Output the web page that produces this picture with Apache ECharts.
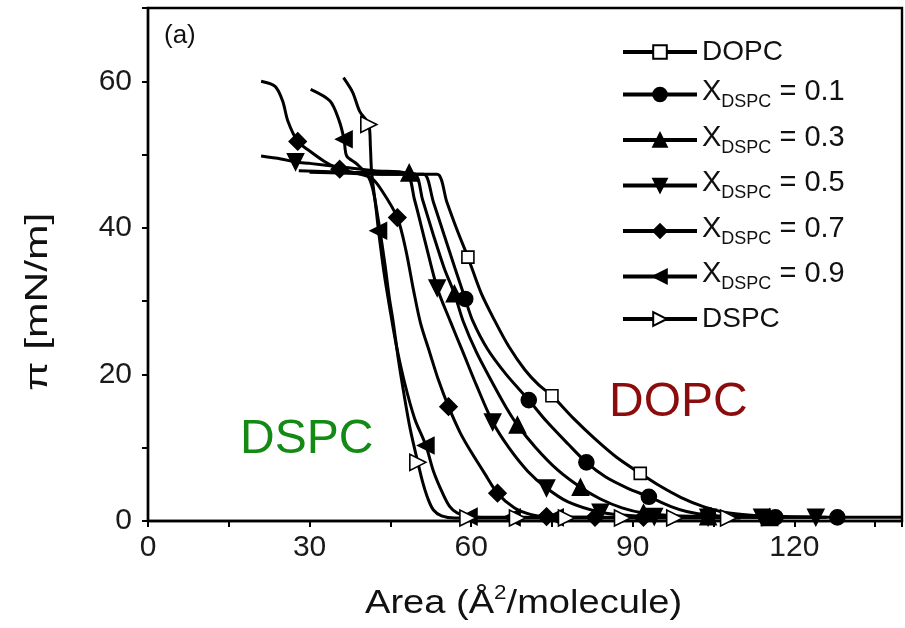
<!DOCTYPE html>
<html>
<head>
<meta charset="utf-8">
<script src="https://cdn.jsdelivr.net/npm/echarts@6/dist/echarts.min.js"></script>
<style>
  html, body { margin: 0; padding: 0; background: #fff; }
  #chart { width: 905px; height: 628px; }
</style>
</head>
<body>
<div id="chart"></div>
<script>
// Surface pressure–area isotherms of DOPC/DSPC mixtures
const seriesNames = ['DOPC', '0.1', '0.3', '0.5', '0.7', '0.9', 'DSPC'];
const xLabelValues = [0, 30, 60, 90, 120];
const yLabelValues = [0, 20, 40, 60];

// Isotherm curves: [area (Å²/molecule), π (mN/m)]
const dopcCurve = [[38,47.4],[44,47.3],[50,47.3],[53.7,47.3],[55.5,43.5],[57.5,39.5],[59.4,36],[61.8,31.2],[64.4,27.3],[67,23.8],[70,20.6],[72.5,18.6],[75,17.1],[79,14],[83,11.2],[87,8.7],[91.4,6.5],[95,4.8],[99,3.2],[103,2],[107,1.2],[112,0.8],[118,0.6],[125,0.5]];
const x01Curve = [[30,47.6],[40,47.4],[48,47.3],[51.2,47.3],[53,43.5],[55,39],[57,34.5],[58.9,30.3],[60.3,27.3],[63,23.5],[66.5,20],[70.7,16.5],[74,13.6],[78,10.5],[81.4,8],[85,6],[89,4.5],[93,3.3],[97,2],[100,1.3],[104,0.8],[110,0.6],[116.5,0.5],[128,0.5],[140,0.5]];
const x03Curve = [[28,47.8],[36,47.6],[44,47.5],[49.4,47.4],[51,43.8],[53,39],[55,34.5],[56.9,31],[58.5,27.3],[61,23],[64,18.8],[66.5,15.5],[68.6,13.1],[72,10],[76,7],[80.3,4.6],[84,3],[88,1.8],[92,1.1],[98,0.7],[104,0.6],[112,0.5],[118,0.5]];
const x05Curve = [[21,49.8],[24.7,49.4],[27.4,49],[30,48.8],[36,48.3],[42,47.8],[47.9,47.5],[49.5,43.8],[51.5,38],[53.7,31.8],[56.1,27.3],[58.5,23],[61,18.5],[64,13.5],[67,10],[70.5,6.8],[74,4.5],[78,2.6],[84,1.2],[90,0.7],[96,0.6],[104,0.5],[114,0.5],[126,0.5]];
const x07Curve = [[21,60],[23.6,59.3],[25,57.3],[26,54.5],[27.8,51.8],[30,50.5],[32.7,49.1],[35.6,48],[38.5,47.5],[41.5,46.8],[43.5,45],[46.3,41.4],[47.9,36.9],[49.3,31.5],[50.6,27],[52.3,23],[53.9,19.3],[55.8,15.6],[58,12],[60.1,9.3],[62.5,6.5],[64.9,3.8],[68,1.8],[71,0.9],[74,0.6],[83,0.5],[92,0.5],[95,0.5]];
const x09Curve = [[30.2,58.9],[33.8,57.3],[35.5,54.6],[36.4,52.1],[36.9,49.8],[38.8,48.7],[40.9,47],[42,44.4],[42.8,39.6],[43.8,34],[44.9,29],[46.1,24],[47.6,19],[49.5,14],[51.6,10.3],[53,6.8],[54.7,3.8],[56,2],[57.4,1.1],[59.6,0.6],[63,0.5],[67.6,0.5],[75.6,0.5],[84,0.5]];
const dspcCurve = [[36.3,60.5],[38,58.5],[39.3,55.9],[41,54.1],[41.3,51],[41.5,47.8],[42,44.6],[43,40],[44,35],[44.8,30.5],[45.5,27.3],[46.5,22],[47.6,17],[48.7,12.5],[50.1,8],[51,5.3],[52,3],[53,1.5],[54.5,0.7],[57,0.4],[59.4,0.4],[68.6,0.4],[77.7,0.4],[88.1,0.4],[97.8,0.4],[107.8,0.4],[110,0.4]];

// Points carrying symbols
const dopcMarks = [[59.4,36],[75,17.1],[91.4,6.5]];
const x01Marks = [[58.9,30.3],[70.7,16.5],[81.4,8],[93,3.3],[104,0.8],[116.5,0.5],[128,0.5]];
const x03Marks = [[48.5,47.5],[56.9,31],[68.6,13.1],[80.3,4.6],[92,1.1],[104,0.6],[115.4,0.5]];
const x05Marks = [[27.4,49],[53.7,31.8],[64,13.5],[74,4.5],[84,1.2],[94,0.6],[104,0.5],[114,0.5],[124,0.5]];
const x07Marks = [[27.8,51.8],[35.6,48],[46.3,41.4],[55.8,15.6],[64.9,3.8],[74,0.6],[83,0.5],[92,0.5]];
const x09Marks = [[36.4,52.1],[42.8,39.6],[51.6,10.3],[59.6,0.6],[67.6,0.5],[75.6,0.5]];
const dspcMarks = [[41,54.1],[50.1,8],[59.4,0.4],[68.6,0.4],[77.7,0.4],[88.1,0.4],[97.8,0.4],[107.8,0.4]];

const curves = [dopcCurve, x01Curve, x03Curve, x05Curve, x07Curve, x09Curve, dspcCurve];
const marks = [dopcMarks, x01Marks, x03Marks, x05Marks, x07Marks, x09Marks, dspcMarks];

const symbolStyles = [
  { symbol: 'rect', size: 12, rotate: 0, fill: '#fff' },
  { symbol: 'circle', size: 15, rotate: 0, fill: '#000' },
  { symbol: 'triangle', size: 16, rotate: 0, fill: '#000' },
  { symbol: 'triangle', size: 16, rotate: 180, fill: '#000' },
  { symbol: 'diamond', size: 17, rotate: 0, fill: '#000' },
  { symbol: 'triangle', size: 16, rotate: 90, fill: '#000' },
  { symbol: 'triangle', size: 16, rotate: -90, fill: '#fff' }
];

const FONT = 'Liberation Sans, Arial, sans-serif';
const series = [];
seriesNames.forEach((name, i) => {
  const st = symbolStyles[i];
  series.push({
    name: name,
    type: 'line',
    data: curves[i],
    smooth: 0.3,
    showSymbol: false,
    symbol: st.symbol,
    symbolRotate: st.rotate,
    lineStyle: { color: '#000', width: 3 },
    itemStyle: { color: st.fill, borderColor: '#000', borderWidth: 1.6 },
    z: 2,
    silent: true
  });
});
seriesNames.forEach((name, i) => {
  const st = symbolStyles[i];
  series.push({
    name: name,
    type: 'scatter',
    data: marks[i],
    symbol: st.symbol,
    symbolSize: st.size,
    symbolRotate: st.rotate,
    itemStyle: { color: st.fill, borderColor: '#000', borderWidth: 1.6, opacity: 1 },
    z: 3 + (st.fill === '#fff' ? 1 : 0),
    silent: true
  });
});

const chart = echarts.init(document.getElementById('chart'), null, { renderer: 'canvas' });
chart.setOption({
  animation: false,
  backgroundColor: '#fff',
  grid: { left: 148, top: 8, width: 766, height: 513, show: true, borderColor: '#000', borderWidth: 2.4 },
  xAxis: {
    type: 'value', min: 0, max: 140, interval: 15,
    axisLine: { show: true, lineStyle: { color: '#000', width: 2.4 } },
    axisTick: { show: true, inside: false, length: 6, lineStyle: { color: '#000', width: 2 } },
    axisLabel: {
      margin: 12, fontSize: 30, color: '#1a1a1a', fontFamily: FONT,
      formatter: v => (xLabelValues.indexOf(v) >= 0 ? String(v) : '')
    },
    splitLine: { show: false }
  },
  yAxis: {
    type: 'value', min: 0, max: 70, interval: 10,
    axisLine: { show: true, lineStyle: { color: '#000', width: 2.4 } },
    axisTick: { show: true, inside: false, length: 6, lineStyle: { color: '#000', width: 2 } },
    axisLabel: {
      margin: 16, fontSize: 30, color: '#1a1a1a', fontFamily: FONT,
      formatter: v => (yLabelValues.indexOf(v) >= 0 ? String(v) : '')
    },
    splitLine: { show: false }
  },
  legend: {
    orient: 'vertical', left: 621, top: 38, padding: 0,
    itemWidth: 74, itemHeight: 17, itemGap: 11.5,
    selectedMode: false,
    data: seriesNames,
    lineStyle: { width: 4 },
    formatter: n => (n === 'DOPC' || n === 'DSPC') ? '{p|' + n + '}' : '{t|X}{s|DSPC}{t| = ' + n + '}{z| }',
    textStyle: {
      fontFamily: FONT, color: '#111',
      rich: {
        p: { fontSize: 28, lineHeight: 34, fontFamily: FONT, color: '#111' },
        t: { fontSize: 29, lineHeight: 24, verticalAlign: 'top', fontFamily: FONT, color: '#111' },
        s: { fontSize: 18, lineHeight: 18, verticalAlign: 'bottom', fontFamily: FONT, color: '#111' },
        z: { fontSize: 2, lineHeight: 34, fontFamily: FONT, color: '#111' }
      }
    }
  },
  graphic: [
    { type: 'text', left: 164, top: 23, style: { text: '(a)', font: '26px ' + FONT, fill: '#111' } },
    { type: 'text', left: 240, top: 416, style: { text: 'DSPC', font: '48px ' + FONT, fill: '#138a13' } },
    { type: 'text', left: 609, top: 379, style: { text: 'DOPC', font: '48px ' + FONT, fill: '#8b0c0c' } },
    {
      type: 'text', x: 365, y: 583, scaleX: 1.12,
      style: {
        text: '{a|Area (Å}{s|2}{a|/molecule)}',
        rich: {
          a: { fontSize: 34, fontFamily: FONT, fill: '#111', lineHeight: 38, verticalAlign: 'bottom' },
          s: { fontSize: 20, fontFamily: FONT, fill: '#111', lineHeight: 20, verticalAlign: 'top' }
        }
      }
    },
    {
      type: 'text', x: 22, y: 391, rotation: Math.PI / 2, scaleX: 1.33,
      style: { text: 'π [mN/m]', font: '32px ' + FONT, fill: '#111', textAlign: 'left', textVerticalAlign: 'top' }
    }
  ],
  series: series
});
</script>
</body>
</html>
